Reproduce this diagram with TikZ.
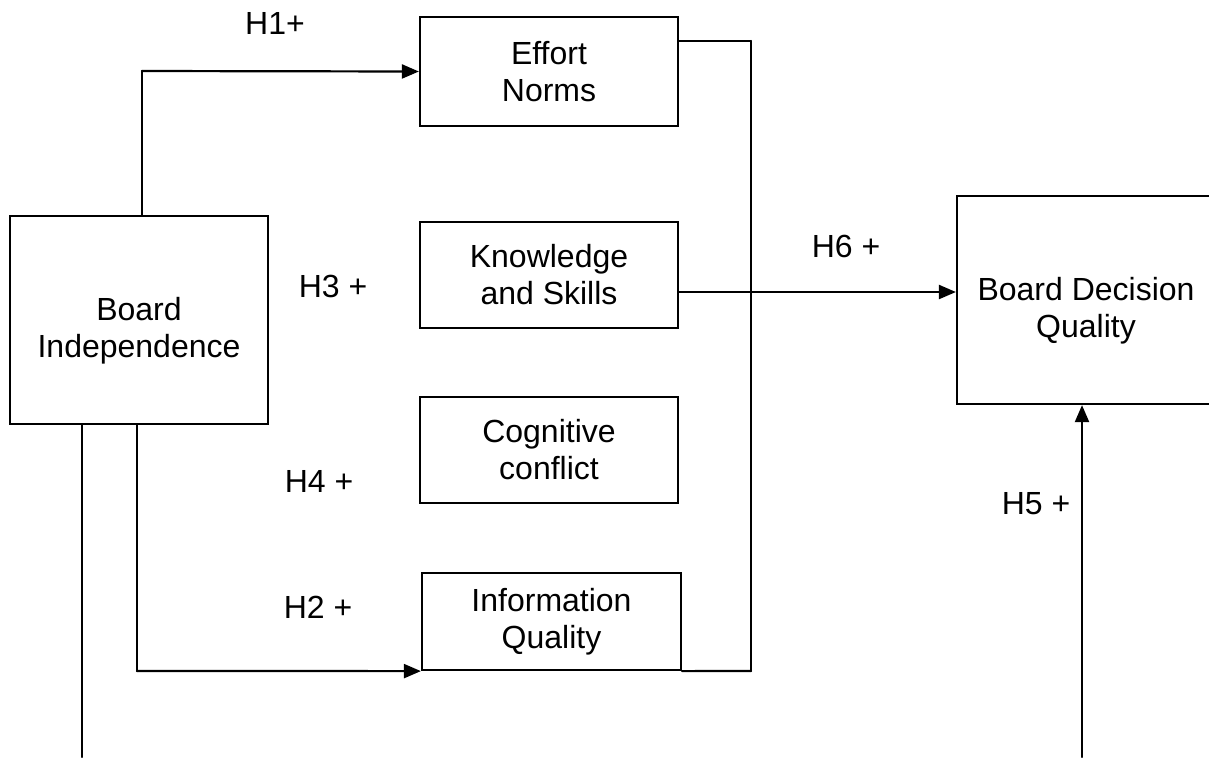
\documentclass[tikz,border=0pt]{standalone}
\usepackage{fontspec}
\setmainfont{Liberation Sans}
\usepackage{tkz-euclide}
\usetikzlibrary{arrows.meta}

\tikzset{
  box/.style={draw,line width=1.1pt,align=center,inner sep=0pt,
    font=\fontsize{16}{18.5}\selectfont,minimum width=129pt},
  hyp/.style={font=\fontsize{16}{18.5}\selectfont,inner sep=0pt,align=center},
  link/.style={line width=1.1pt},
  thinlink/.style={line width=.7pt},
  arr/.style={line width=1.1pt,-{Triangle[length=8.5pt,width=7pt]}},
}

\begin{document}
\begin{tikzpicture}[x=1pt,y=-1pt,scale=.5]
\useasboundingbox (0,0) rectangle (1209,757);
\clip (0,0) rectangle (1209,757);

\node[box,minimum height=104pt,
  label={[hyp,yshift=-5.5pt]center:Board\\Independence}] (BI) at (139,320) {};

\node[box,minimum height=54.5pt] (EN) at (549,71.5) {Effort\\Norms};
\node[box,minimum height=53pt] (KS) at (549,275) {Knowledge\\and Skills};
\node[box,minimum height=53pt] (CC) at (549,450) {Cognitive\\conflict};
\node[box,minimum height=48.5pt,minimum width=129.5pt] (IQ) at (551.5,621.5) {Information\\Quality};

\node[box,minimum height=104pt,
  label={[hyp,yshift=-5.5pt]center:Board Decision\\Quality}] (BDQ) at (1086,300) {};


\tkzDefPoint(142,71){tA}
\tkzDefPoint(137,671){tB}
\tkzDefPoint(82,757){tC}

  \tkzDefPoint(751,41){tD}
  \tkzDefPoint(751,671){tE}
  \tkzDefPoint(751,292){tF}

\tkzDefPoint(1082,757){tG}


  \tkzDrawSegment[link](tA |- BI.north,tA)
\tkzDrawSegment[arr](tA,EN.west)

\tkzDrawSegment[link](tB |- BI.south,tB)
\tkzDrawSegment[arr](tB,IQ.south west)

  \tkzDrawSegment[link](tC |- BI.south,tC)

\tkzDrawSegment[thinlink](EN.east |- tD,tD)
  \tkzDrawSegment[link](tD,tE)
  \tkzDrawSegment[link](tE,IQ.south east)

\tkzDrawSegment[thinlink](KS.east |- tF,tF)
\tkzDrawSegment[arr](tF,tF -| BDQ.west)

  \tkzDrawSegment[arr](tG,tG |- BDQ.south)


\node[hyp] (h1) at (275,23) {H1+};
\node[hyp] (h3) at (333,286) {H3 +};
\node[hyp] (h4) at (319,481) {H4 +};
\node[hyp] (h2) at (318,607) {H2 +};

\node[hyp] (h6) at (846,246) {H6 +};
\node[hyp] (h5) at (1036,504) {H5 +};

\end{tikzpicture}
\end{document}
